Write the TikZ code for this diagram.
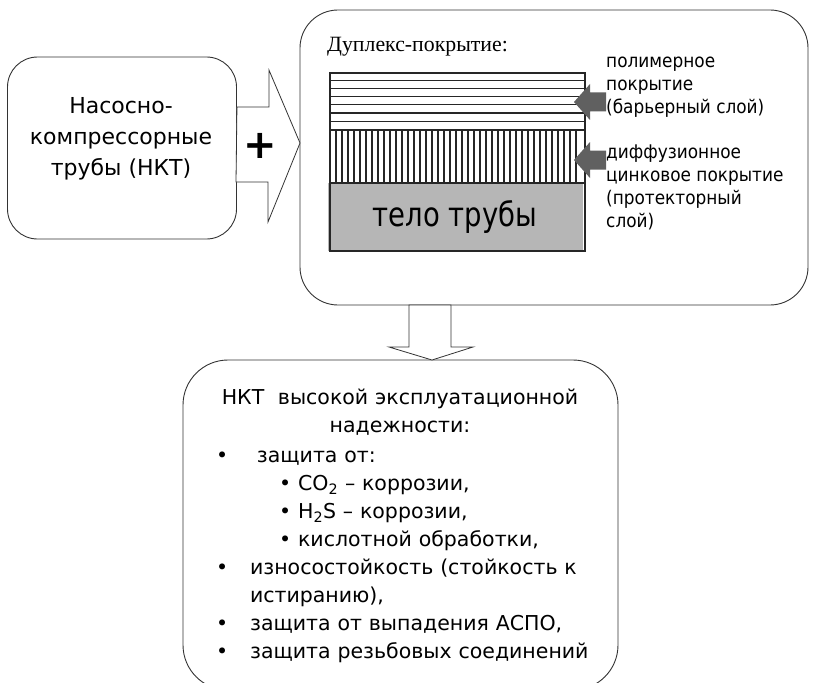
\documentclass[tikz,border=0pt]{standalone}
\usepackage{fontspec}
\setmainfont{Liberation Serif}
\setsansfont{DejaVu Sans}
\newfontfamily\narrowsans[FakeStretch=0.9]{DejaVu Sans}
\newfontfamily\tubesans[FakeStretch=0.82]{DejaVu Sans}
\definecolor{tubegray}{RGB}{182,182,182}
\definecolor{arrowgray}{RGB}{96,96,96}
\newcommand*{\layerarrow}[1]{%
  \fill[layer arrow] (#1) -- ++(16,-18) -- ++(0,8.5) -- ++(16,0) -- ++(0,19)
    -- ++(-16,0) -- ++(0,8.5) -- cycle;
}

\begin{document}
\begin{tikzpicture}[x=1pt, y=-1pt,
  every node/.style = {inner sep=0pt},
  box/.style        = {draw=black!80, line width=0.9pt, rounded corners=#1, fill=white},
  block arrow/.style = {draw=black!80, line width=0.8pt, fill=white, line join=miter},
  layer/.style      = {minimum width=255, minimum height=#1},
  layer arrow/.style = {fill=arrowgray},
  layer label/.style = {anchor=north west, align=left, font=\narrowsans\fontsize{18.8}{22.8}\selectfont},
  stripe/.style     = {draw=black!85, line width=1.3pt},
]
  \useasboundingbox (0,0) rectangle (813,682);

  % the three boxes
  \node[box=30, minimum width=229, minimum height=182] (pipesN) at (122,148) {};
  \node[box=38, minimum width=508, minimum height=295] (duplexN) at (554,157.5) {};
  \node[box=45, minimum width=435, minimum height=330] (resultN) at (400.5,525) {};

  \node[align=center, font=\sffamily\fontsize{22}{31}\selectfont] (pipesTextN) at (121,139)
    {Насосно-\\компрессорные\\трубы (НКТ)};

  % plus arrow
  \coordinate (plusTip) at (300,143);
  \draw[block arrow] (pipesN.east) ++(0,-41) -- ++(32,0) -- ++(0,-37) -- (plusTip)
    -- ++(-32,79) -- ++(0,-40) -- ++(-32,0) -- cycle;
  \node[font=\sffamily\bfseries\fontsize{40}{40}\selectfont] (plusN) at (260,146) {+};

  % down arrow
  \coordinate (downTip) at (432,360);
  \draw[block arrow] (downTip) -- ++(-43,-13) -- ++(20,0) -- ++(0,-42) -- ++(42,0)
    -- ++(0,42) -- ++(22,0) -- cycle;

  % duplex coating
  \node[anchor=base west, font=\fontsize{21.8}{25}\selectfont] (duplexLabelN) at (327,52) {Дуплекс-покрытие:};
  \node[layer=57] (barrierN) at (457.5,101.5) {};
  \node[layer=53] (protectorN) at (457.5,156.5) {};
  \node[layer=68, fill=tubegray, font=\tubesans\fontsize{33.5}{33.5}\selectfont] (tubeN) at (455,217) {тело трубы};
  \foreach \y in {80.2,88.4,...,122} \draw[stripe] (330,\y) -- (585,\y);
  \foreach \x in {336,342,...,581} \draw[stripe, line width=1.1pt] (\x,130) -- (\x,183);
  \draw[line width=1.6pt, draw=black!85] (barrierN.south west) -- (barrierN.south east);
  \draw[line width=1.6pt, draw=black!85] (protectorN.south west) -- (protectorN.south east);
  \draw[line width=2.4pt, draw=black!85] (barrierN.north west) rectangle (protectorN.south east |- tubeN.south);

  \coordinate (barrierTip) at (574,102);
  \coordinate (protectorTip) at (574,160);
  \layerarrow{barrierTip}
  \layerarrow{protectorTip}
  \node[layer label] (barrierLabelN) at (606,57) {полимерное\\покрытие\\(барьерный слой)};
  \node[layer label] (protectorLabelN) at (606,145) {диффузионное\\цинковое покрытие\\(протекторный\\слой)};

  % result
  \node[anchor=north, text width=400pt, font=\sffamily\fontsize{20.5}{28}\selectfont] (meritsN) at (400,389) {%
    \parindent=0pt
    {\centering НКТ\ \ высокой эксплуатационной\\надежности:\par}
    \list{•}{\topsep=0pt\itemsep=0pt\parsep=0pt\parskip=0pt\labelwidth=12pt
      \leftmargin=50pt\itemindent=0pt\labelsep=22pt}%
    \item \ защита от:
      {\list{•}{\topsep=0pt\itemsep=0pt\parsep=0pt\labelwidth=12pt
        \leftmargin=48pt\itemindent=0pt\labelsep=7pt}%
      \item CO\textsubscript{2} – коррозии,
      \item H\textsubscript{2}S – коррозии,
      \item кислотной обработки,
      \endlist}
    \item износостойкость (стойкость к истиранию),
    \item защита от выпадения АСПО,
    \item защита резьбовых соединений
    \endlist
  };
\end{tikzpicture}
\end{document}
